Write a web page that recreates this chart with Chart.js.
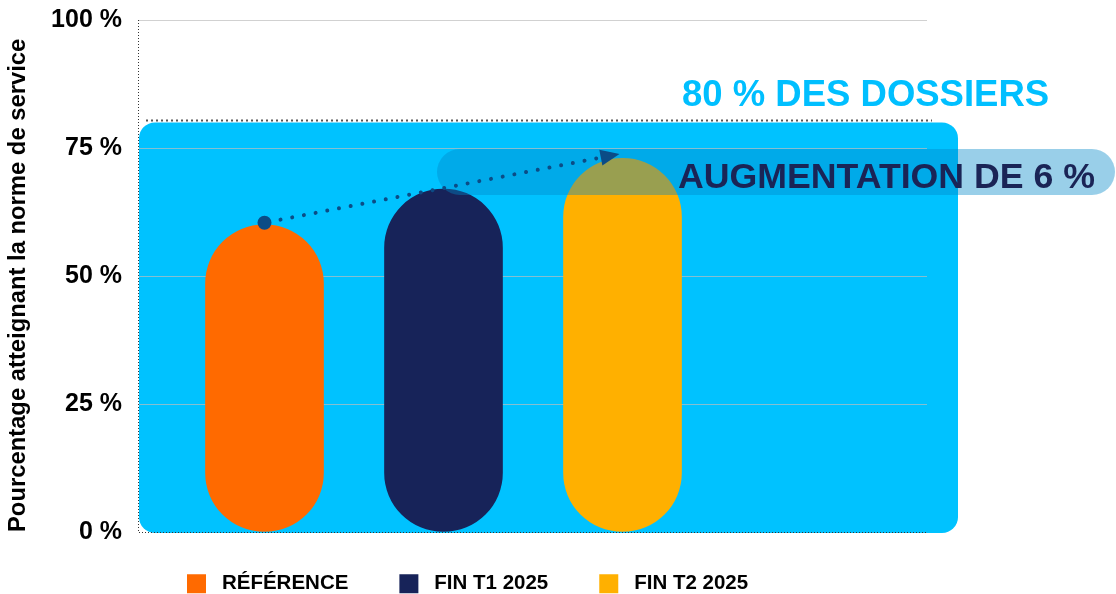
<!DOCTYPE html>
<html><head><meta charset="utf-8">
<script src="https://cdn.jsdelivr.net/npm/chart.js@4.4.1/dist/chart.umd.min.js"></script>
<style>html,body{margin:0;padding:0;background:#fff;}canvas{display:block;}</style>
</head><body>
<canvas id="c" width="1116" height="594"></canvas>
<script>
// ---- data ----
const CATEGORIES = ['RÉFÉRENCE', 'FIN T1 2025', 'FIN T2 2025'];
const VALUES = [60, 67, 73];
const BAR_COLORS = ['#FF6A00', '#172359', '#FFB000'];
const Y_TICKS = [0, 25, 50, 75, 100];
const TARGET = 80;
const TARGET_LABEL = '80 % DES DOSSIERS';
const INCREASE_LABEL = 'AUGMENTATION DE 6 %';
const ARROW_X = [1, 2.89];
const ARROW_Y = [60.4, 73.2];
const Y_TITLE = 'Pourcentage atteignant la norme de service';

const FONT = "'Liberation Sans', Arial, sans-serif";
const ARROW_COLOR = '#0B4C86';

function roundRectPath(ctx, x, y, w, h, r) {
  r = Math.min(r, w / 2, h / 2);
  ctx.beginPath();
  ctx.moveTo(x + r, y);
  ctx.lineTo(x + w - r, y);
  ctx.arcTo(x + w, y, x + w, y + r, r);
  ctx.lineTo(x + w, y + h - r);
  ctx.arcTo(x + w, y + h, x + w - r, y + h, r);
  ctx.lineTo(x + r, y + h);
  ctx.arcTo(x, y + h, x, y + h - r, r);
  ctx.lineTo(x, y + r);
  ctx.arcTo(x, y, x + r, y, r);
  ctx.closePath();
}

const decor = {
  id: 'decor',
  afterLayout(chart) {
    const lg = chart.legend;
    lg.left = 136; lg.right = 1116;
    lg.top = 522.5; lg.bottom = 594;
  },
  beforeDraw(chart) {
    const {ctx, chartArea: a, scales: {y}} = chart;
    const top = y.getPixelForValue(TARGET);
    const bottom = y.getPixelForValue(0) + 1;
    const left = a.left, right = a.right + 31;
    ctx.save();
    ctx.fillStyle = '#00C2FF';
    roundRectPath(ctx, left, top, right - left, bottom - top, 16);
    ctx.fill();
    ctx.strokeStyle = '#555';
    ctx.lineWidth = 2;
    ctx.setLineDash([2, 3]);
    ctx.beginPath();
    ctx.moveTo(left + 7, top - 2);
    ctx.lineTo(right - 26, top - 2);
    ctx.stroke();
    ctx.restore();
  },
  beforeDatasetsDraw(chart) {
    const {ctx, chartArea: a} = chart;
    ctx.save();
    ctx.strokeStyle = '#333';
    ctx.lineWidth = 1;
    ctx.setLineDash([1, 2]);
    ctx.beginPath();
    ctx.moveTo(a.left - 0.5, a.top);
    ctx.lineTo(a.left - 0.5, a.bottom + 1);
    ctx.moveTo(a.left, a.bottom + 0.5);
    ctx.lineTo(a.right, a.bottom + 0.5);
    ctx.stroke();
    ctx.restore();
  },
  beforeDatasetDraw(chart, args) {
    if (args.meta.type !== 'line') return;
    const {ctx, scales: {y}} = chart;
    const cy = y.getPixelForValue(70.3);
    ctx.save();
    ctx.fillStyle = 'rgba(0,135,200,0.4)';
    roundRectPath(ctx, 437, cy - 23, 1115 - 437, 46, 23);
    ctx.fill();
    ctx.fillStyle = '#1A2456';
    ctx.font = 'bold 35.7px ' + FONT;
    ctx.textAlign = 'left';
    ctx.textBaseline = 'alphabetic';
    ctx.fillText(INCREASE_LABEL, 678, cy + 16);
    ctx.restore();
  },
  afterDatasetsDraw(chart) {
    const {ctx} = chart;
    const meta = chart.getDatasetMeta(3);
    const p0 = meta.data[0], p1 = meta.data[1];
    const ang = Math.atan2(p1.y - p0.y, p1.x - p0.x);
    ctx.save();
    ctx.translate(p1.x, p1.y);
    ctx.rotate(ang);
    ctx.fillStyle = ARROW_COLOR;
    ctx.beginPath();
    ctx.moveTo(17, 0);
    ctx.lineTo(-2, -8);
    ctx.lineTo(-2, 8);
    ctx.closePath();
    ctx.fill();
    ctx.restore();
  },
  afterDraw(chart) {
    const {ctx, scales: {y}} = chart;
    const top = y.getPixelForValue(TARGET);
    ctx.save();
    ctx.fillStyle = '#00BFFF';
    ctx.font = 'bold 36.5px ' + FONT;
    ctx.textAlign = 'left';
    ctx.textBaseline = 'alphabetic';
    ctx.fillText(TARGET_LABEL, 682, top - 16);
    ctx.restore();
  }
};

const barSets = CATEGORIES.map((name, i) => ({
  type: 'bar',
  label: name,
  data: [{x: i + 1, y: VALUES[i]}],
  backgroundColor: BAR_COLORS[i],
  borderWidth: 0,
  borderRadius: 200,
  borderSkipped: false,
  grouped: false,
  barThickness: 118,
  order: 1
}));

const arrowSet = {
  type: 'line',
  label: 'arrow',
  data: ARROW_X.map((x, i) => ({x, y: ARROW_Y[i]})),
  borderColor: ARROW_COLOR,
  borderWidth: 4,
  borderDash: [0.01, 11.9],
  borderDashOffset: 7.5,
  borderCapStyle: 'round',
  pointRadius: [7, 0],
  pointHoverRadius: [7, 0],
  pointBackgroundColor: ARROW_COLOR,
  pointBorderWidth: 0,
  fill: false,
  tension: 0,
  order: 0
};

new Chart(document.getElementById('c'), {
  data: {datasets: [...barSets, arrowSet]},
  options: {
    responsive: false,
    animation: false,
    events: [],
    layout: {padding: {top: 20, right: 189, bottom: 0, left: 0}},
    scales: {
      x: {
        type: 'linear', min: 0.2989, max: 4.7011, offset: false,
        afterBuildTicks: s => { s.ticks = CATEGORIES.map((_, i) => ({value: i + 1})); },
        ticks: {display: false},
        grid: {display: false, drawTicks: false},
        border: {display: false}
      },
      y: {
        type: 'linear', min: 0, max: 100,
        afterBuildTicks: s => { s.ticks = Y_TICKS.map(v => ({value: v})); },
        afterFit: s => { s.width = 139; s.paddingTop = 12; s.paddingBottom = 12; },
        ticks: {
          callback: v => v + ' %',
          font: {family: FONT, size: 25, weight: 'bold'},
          color: '#000', padding: 17
        },
        grid: {
          color: c => (c.tick && c.tick.value === 0) ? 'rgba(0,0,0,0)' : 'rgba(190,190,190,0.7)',
          lineWidth: 1, drawTicks: false
        },
        border: {display: false},
        title: {
          display: true, text: Y_TITLE, align: 'start',
          font: {family: FONT, size: 23.8, weight: 'bold'},
          color: '#000', padding: {top: 4, bottom: 0}
        }
      }
    },
    plugins: {
      tooltip: {enabled: false},
      legend: {
        display: true, position: 'bottom', align: 'start', maxHeight: 62,
        labels: {
          boxWidth: 19, boxHeight: 19, padding: 51, color: '#000',
          font: {family: FONT, size: 20.5, weight: 'bold'},
          generateLabels: chart => Chart.defaults.plugins.legend.labels.generateLabels(chart)
            .map(it => Object.assign({}, it, {text: ' ' + it.text})),
          filter: it => it.datasetIndex < CATEGORIES.length
        }
      }
    }
  },
  plugins: [decor]
});
</script>
</body></html>
